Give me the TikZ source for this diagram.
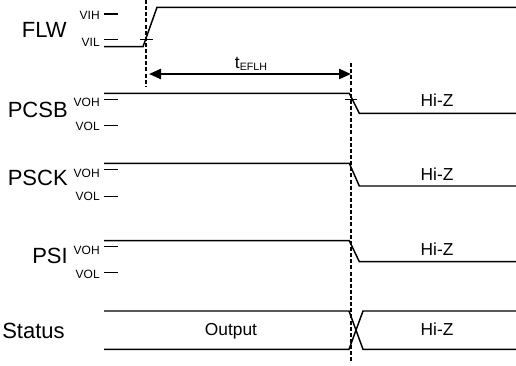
\documentclass[tikz,border=0pt]{standalone}
\usepackage{fontspec}
\setmainfont{Liberation Sans}
\usetikzlibrary{arrows.meta}
\begin{document}
\begin{tikzpicture}[x=0.75pt,y=-0.75pt,
 sig/.style={line width=1.1pt, line join=miter},
 tickmark/.style={line width=0.9pt},
 guide/.style={line width=1.3pt, dash pattern=on 3pt off 1.6pt},
 big/.style={font=\fontsize{16.5}{18}\selectfont, inner sep=0pt},
 small/.style={font=\fontsize{9}{10}\selectfont, inner sep=0pt},
 mid/.style={font=\fontsize{13}{15}\selectfont, inner sep=0pt},
 dim/.style={line width=1.7pt, {Triangle[length=9pt,width=7.5pt]}-{Triangle[length=9pt,width=7.5pt]}}]
\useasboundingbox (0,0) rectangle (516,365);

% signal names
\node[big, anchor=base east] (nFLW) at (67,37) {FLW};
\node[big, anchor=base east] (nPCSB) at (68,117.3) {PCSB};
\node[big, anchor=base east] (nPSCK) at (68,185) {PSCK};
\node[big, anchor=base east] (nPSI) at (68,263) {PSI};
\node[big, anchor=base west] (nStatus) at (2,338) {Status};

% level labels
\node[small, anchor=base east] (lVIH) at (100,19) {VIH};
\node[small, anchor=base east] (lVIL) at (100,46) {VIL};
\node[small, anchor=base east] (lVOH1) at (100,106) {VOH};
\node[small, anchor=base east] (lVOL1) at (100,130) {VOL};
\node[small, anchor=base east] (lVOH2) at (100,177) {VOH};
\node[small, anchor=base east] (lVOL2) at (100,200.7) {VOL};
\node[small, anchor=base east] (lVOH3) at (100,254) {VOH};
\node[small, anchor=base east] (lVOL3) at (100,278) {VOL};

% level ticks
\foreach \yy in {14,39.3,99.3,125.7,169.3,196.7,246.7,272.3}
  \draw[tickmark] (104,\yy) -- (118,\yy);

% FLW waveform
\coordinate (f0) at (104,46.7);
\coordinate (f1) at (143,46.7);
\coordinate (f2) at (157,7.3);
\coordinate (f3) at (516,7.3);
\draw[sig] (f0) -- (f1) -- (f2) -- (f3);
\draw[tickmark] (140,39.3) -- (153,39.3);

% PCSB waveform
\coordinate (a0) at (104,93.3);
\coordinate (a1) at (349.3,93.3);
\coordinate (a2) at (359.3,113.3);
\coordinate (a3) at (516,113.3);
\draw[sig] (a0) -- (a1) -- (a2) -- (a3);
\draw[tickmark] (345,99.3) -- (357,99.3);

% PSCK waveform
\coordinate (b0) at (104,163.3);
\coordinate (b1) at (349.3,163.3);
\coordinate (b2) at (359.3,186);
\coordinate (b3) at (516,186);
\draw[sig] (b0) -- (b1) -- (b2) -- (b3);

% PSI waveform
\coordinate (c0) at (104,240.7);
\coordinate (c1) at (349.3,240.7);
\coordinate (c2) at (359.3,261.7);
\coordinate (c3) at (516,261.7);
\draw[sig] (c0) -- (c1) -- (c2) -- (c3);

% Status bus
\coordinate (s0) at (104,311);
\coordinate (s1) at (349,311);
\coordinate (s2) at (363,349.3);
\coordinate (s3) at (516,349.3);
\coordinate (t0) at (104,349.3);
\coordinate (t1) at (349,349.3);
\coordinate (t2) at (363,311);
\coordinate (t3) at (516,311);
\draw[sig] (s0) -- (s1) -- (s2) -- (s3);
\draw[sig] (t0) -- (t1) -- (t2) -- (t3);

% Hi-Z / Output labels
\node[mid, anchor=base] (hz1) at (437,106.7) {Hi-Z};
\node[mid, anchor=base] (hz2) at (437,180) {Hi-Z};
\node[mid, anchor=base] (hz3) at (437,255) {Hi-Z};
\node[mid, anchor=base] (hz4) at (437,335) {Hi-Z};
\node[mid, anchor=base] (out) at (231,335) {Output};

% guide lines
\coordinate (g1a) at (146,0);
\coordinate (g1b) at (146,87);
\coordinate (g2a) at (350.7,63);
\coordinate (g2b) at (350.7,362);
\draw[guide] (g1a) -- (g1b);
\draw[guide] (g2a) -- (g2b);

% timing arrow
\coordinate (d1) at (149,74);
\coordinate (d2) at (351,74);
\draw[dim] (d1) -- (d2);
\node[mid, anchor=base] (tl) at (251,68.3) {t{\fontsize{8}{8}\selectfont\raisebox{-1.6pt}{EFLH}}};
\end{tikzpicture}
\end{document}
